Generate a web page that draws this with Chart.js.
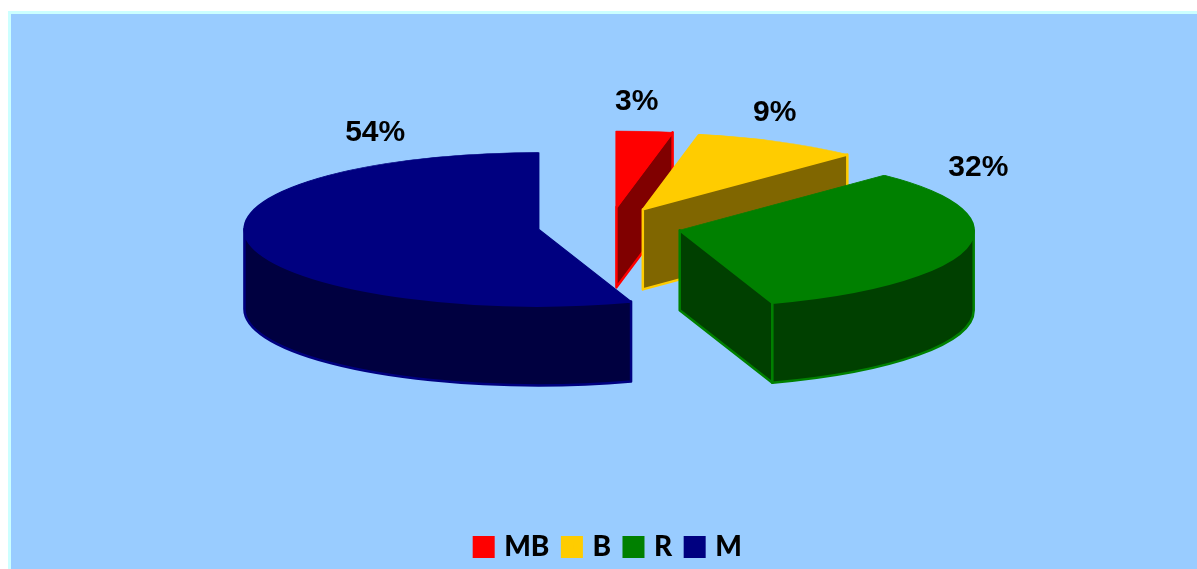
<!DOCTYPE html>
<html>
<head>
<meta charset="utf-8">
<title>Pie</title>
<script src="https://cdn.jsdelivr.net/npm/chart.js@4/dist/chart.umd.min.js"></script>
<style>
    html, body { margin: 0; padding: 0; background: #fff; overflow: hidden; }
    #frame { position: absolute; left: 8px; top: 11px; right: 0; bottom: 0; background: #99ccff; border-left: 3px solid #ccffff; border-top: 3px solid #ccffff; }
    #chart-pie { position: absolute; left: 0; top: 0; }
</style>
</head>
<body>
<div id="frame"></div>
<canvas id="chart-pie" width="1197" height="569"></canvas>
<script>
// ── Data ─────────────────────────────────────────────────────────────
const categories = ['MB', 'B', 'R', 'M'];
const shares = [3, 9, 32, 54];

// ── Look ─────────────────────────────────────────────────────────────
const topColors = ['#ff0000', '#ffcc00', '#008000', '#000080'];
const sideColors = ['#800000', '#806600', '#004000', '#000040'];
const RADIUS = 294;
const SQUASH = 0.26;       // ellipse height / width of the tilted pie
const DEPTH = 80;          // height of the extruded wall
const EXPLODE = 72;        // how far each slice is pulled out
const PIE_Y = 226;         // screen y of the pie centre
const labelNudge = [[-8, -30], [-4, -29], [12, -79], [127, -108]];

// screen position of a slice's apex (arc.y is in the flat, unsquashed pie)
function apexY(chart, arc) {
    const flatCenter = (chart.chartArea.top + chart.chartArea.bottom) / 2;
    return PIE_Y + (arc.y - flatCenter) * SQUASH;
}

function drawPlane(ctx, x, y, angle) {
    const rimX = x + Math.cos(angle) * RADIUS;
    const rimY = y + Math.sin(angle) * RADIUS * SQUASH;
    ctx.beginPath();
    ctx.moveTo(x, y);
    ctx.lineTo(rimX, rimY);
    ctx.lineTo(rimX, rimY + DEPTH);
    ctx.lineTo(x, y + DEPTH);
    ctx.closePath();
    ctx.fill();
    ctx.stroke();
}

function drawWall(ctx, x, y, from, to) {
    ctx.beginPath();
    ctx.ellipse(x, y, RADIUS, RADIUS * SQUASH, 0, from, to);
    ctx.ellipse(x, y + DEPTH, RADIUS, RADIUS * SQUASH, 0, to, from, true);
    ctx.closePath();
    ctx.fill();
    ctx.stroke();
}

const pie3d = {
    id: 'pie3d',
    beforeDatasetsDraw(chart) {
        const { ctx, chartArea } = chart;
        const cx = (chartArea.left + chartArea.right) / 2;
        const cy = (chartArea.top + chartArea.bottom) / 2;
        const arcs = chart.getDatasetMeta(0).data;

        // pull the slices apart, angles come from the controller
        arcs.forEach(arc => {
            const mid = (arc.startAngle + arc.endAngle) / 2;
            arc.x = cx + Math.cos(mid) * EXPLODE;
            arc.y = cy + Math.sin(mid) * EXPLODE;
        });

        // sides first, back to front
        ctx.save();
        ctx.lineWidth = 2.5;
        ctx.lineJoin = 'round';
        arcs.forEach((arc, i) => {
            const y = apexY(chart, arc);
            ctx.fillStyle = sideColors[i];
            ctx.strokeStyle = topColors[i];
            if (Math.cos(arc.startAngle) < -1e-6) drawPlane(ctx, arc.x, y, arc.startAngle);
            if (Math.cos(arc.endAngle) > 1e-6) drawPlane(ctx, arc.x, y, arc.endAngle);
            const from = Math.max(arc.startAngle, 0);
            const to = Math.min(arc.endAngle, Math.PI);
            if (to > from) drawWall(ctx, arc.x, y, from, to);
        });
        ctx.restore();

        // top faces are the library's own arcs, just tilted
        ctx.save();
        ctx.translate(cx, PIE_Y);
        ctx.scale(1, SQUASH);
        ctx.translate(-cx, -cy);
    },
    afterDatasetsDraw(chart) {
        const { ctx } = chart;
        ctx.restore();

        const arcs = chart.getDatasetMeta(0).data;
        ctx.save();
        ctx.font = 'bold 30px "Liberation Sans"';
        ctx.fillStyle = '#000';
        ctx.textAlign = 'center';
        ctx.textBaseline = 'middle';
        arcs.forEach((arc, i) => {
            const mid = (arc.startAngle + arc.endAngle) / 2;
            const rimX = arc.x + Math.cos(mid) * RADIUS;
            const rimY = apexY(chart, arc) + Math.sin(mid) * RADIUS * SQUASH;
            ctx.fillText(shares[i] + '%', rimX + labelNudge[i][0], rimY + labelNudge[i][1]);
        });
        ctx.restore();
    }
};

new Chart(document.getElementById('chart-pie'), {
    type: 'pie',
    data: {
        labels: categories,
        datasets: [{
            data: shares,
            backgroundColor: topColors,
            borderColor: topColors,
            borderWidth: 2,
            radius: RADIUS,
            clip: false,
        }]
    },
    plugins: [pie3d],
    options: {
        responsive: false,
        animation: false,
        layout: { padding: { left: 22, bottom: -2 } },
        plugins: {
            tooltip: { enabled: false },
            legend: {
                position: 'bottom',
                labels: {
                    boxWidth: 13,
                    boxHeight: 13,
                    padding: 16,
                    color: '#000',
                    font: { family: 'Lato', size: 28, weight: 900 },
                    // thick stroke makes a 22px swatch that sits closer to its text
                    generateLabels(chart) {
                        return Chart.overrides.pie.plugins.legend.labels.generateLabels(chart)
                            .map(item => ({ ...item, lineWidth: 9, strokeStyle: item.fillStyle }));
                    }
                }
            }
        }
    }
});
</script>
</body>
</html>
